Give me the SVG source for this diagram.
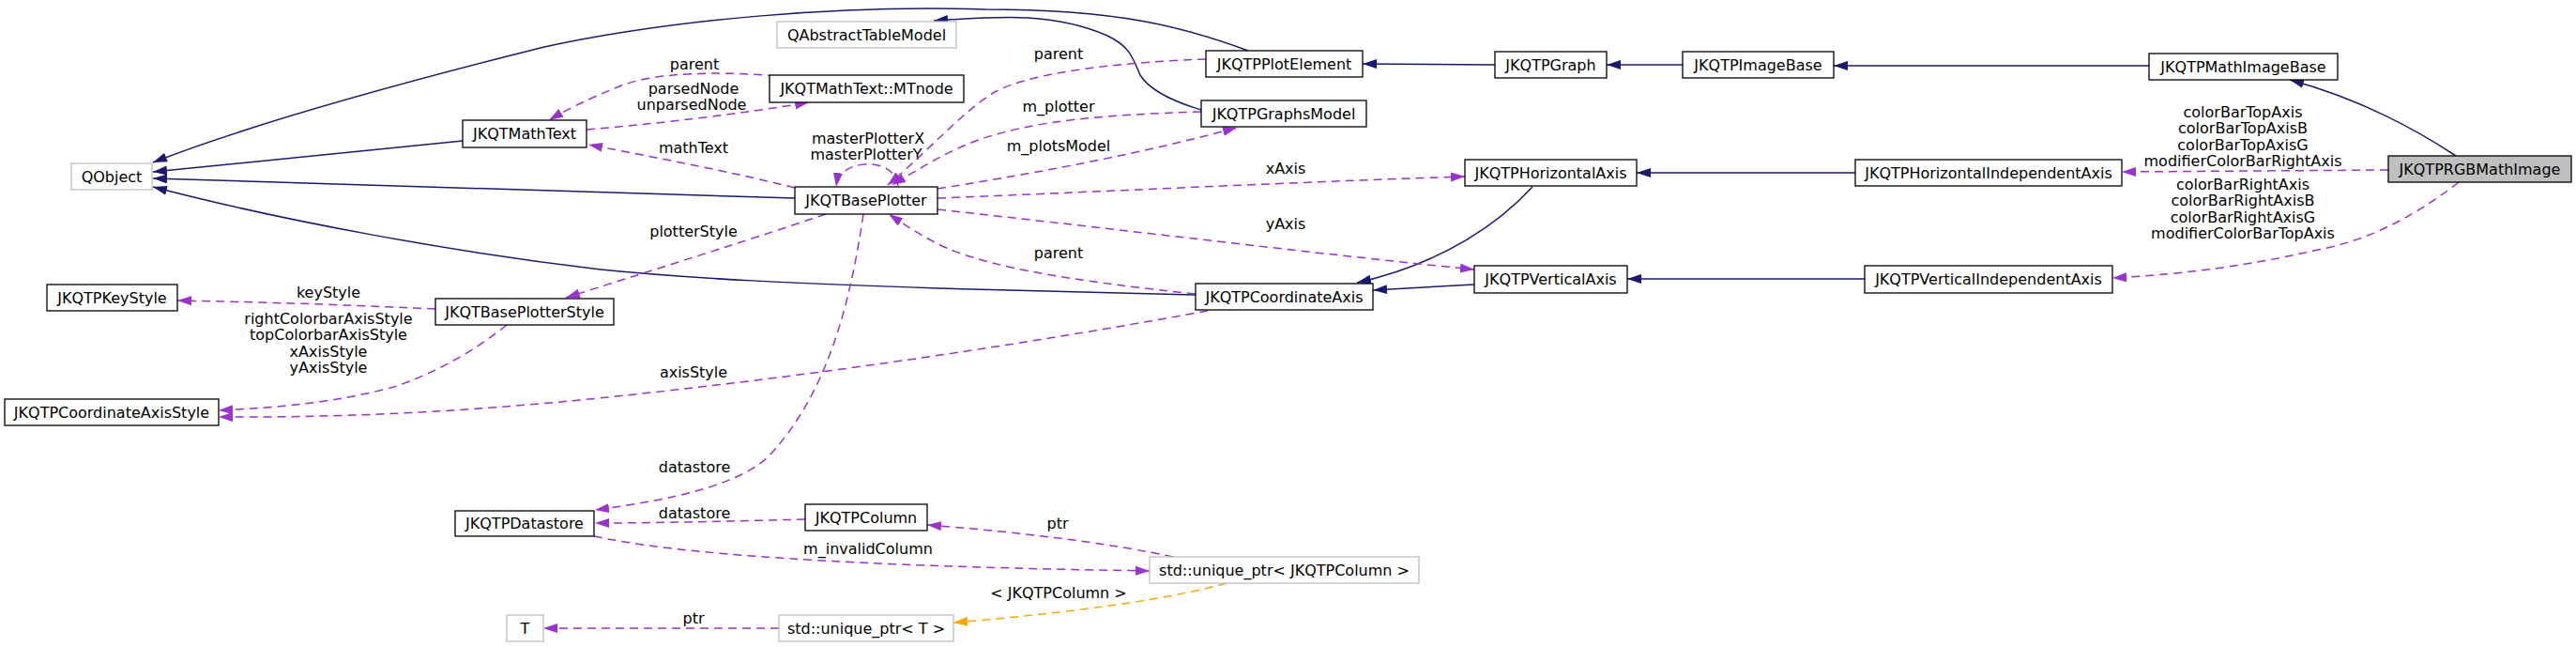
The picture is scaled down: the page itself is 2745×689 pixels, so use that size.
<svg xmlns="http://www.w3.org/2000/svg" width="2745" height="689" viewBox="0 0 2745 689">
<style>
text{font-family:"DejaVu Sans","Liberation Sans",sans-serif;font-size:16px;fill:#000;text-anchor:middle}
.n rect{fill:#fff;stroke:#000;stroke-width:1.3}
.g rect{fill:#fff;stroke:#bfbfbf;stroke-width:1.3}
.sel rect{fill:#bfbfbf;stroke:#000;stroke-width:1.3}
.inh{fill:none;stroke:#191970;stroke-width:1.5;marker-end:url(#an)}
.use{fill:none;stroke:#9a32cd;stroke-width:1.5;stroke-dasharray:9,6;marker-end:url(#ap)}
.tpl{fill:none;stroke:#ffa500;stroke-width:1.5;stroke-dasharray:9,6;marker-end:url(#ao)}
</style>
<defs>
<marker id="an" markerUnits="userSpaceOnUse" markerWidth="16" markerHeight="12" refX="15" refY="5" orient="auto"><path d="M0,0 L15,5 L0,10 z" fill="#191970"/></marker>
<marker id="ap" markerUnits="userSpaceOnUse" markerWidth="16" markerHeight="12" refX="15" refY="5" orient="auto"><path d="M0,0 L15,5 L0,10 z" fill="#9a32cd"/></marker>
<marker id="ao" markerUnits="userSpaceOnUse" markerWidth="16" markerHeight="12" refX="15" refY="5" orient="auto"><path d="M0,0 L15,5 L0,10 z" fill="#ffa500"/></marker>
</defs>
<rect width="2745" height="689" fill="#fff"/>
<g id="edges">
<path class="inh" d="M1330,54 C1260,28 1190,10 1050,10 C900,5 720,20 580,50 C420,90 260,135 163,173"/>
<path class="inh" d="M493,150 L163,183"/>
<path class="inh" d="M847,211 L163,190"/>
<path class="inh" d="M1274,314 L1000,307 C850,302 740,297 640,287 C480,268 300,235 163,199"/>
<path class="inh" d="M1280,117 C1250,108 1225,96 1215,80 C1207,62 1205,50 1180,38 C1120,12 1060,18 995,22"/>
<path class="inh" d="M1593,69 L1452,68"/>
<path class="inh" d="M1793,69 L1712,69"/>
<path class="inh" d="M2290,70 L1954,70"/>
<path class="inh" d="M2617,166 C2570,135 2510,104 2440,85"/>
<path class="inh" d="M1977,184 L1744,184"/>
<path class="inh" d="M1987,297 L1734,297"/>
<path class="inh" d="M1633,199 C1600,235 1540,280 1446,301"/>
<path class="inh" d="M1571,303 L1463,309"/>

<path class="use" d="M827,81 C770,76 700,76 660,92 C630,104 605,116 585,128"/>
<text x="740" y="74">parent</text>
<path class="use" d="M625,138 C700,132 790,121 862,109"/>
<text x="739" y="100">parsedNode</text>
<text x="737" y="117">unparsedNode</text>
<path class="use" d="M847,200 C780,183 700,168 627,154"/>
<text x="739" y="163">mathText</text>
<path class="use" d="M957,198 C955,180 937,174 922,175 C905,176 893,184 891,199"/>
<text x="925" y="153">masterPlotterX</text>
<text x="923" y="170">masterPlotterY</text>
<path class="use" d="M1285,63 C1200,66 1100,76 1060,98 C1030,115 990,160 946,197"/>
<text x="1128" y="63">parent</text>
<path class="use" d="M1280,119 C1180,122 1100,128 1040,150 C1005,163 980,180 950,197"/>
<text x="1128" y="119">m_plotter</text>
<path class="use" d="M999,201 C1080,188 1200,168 1318,136"/>
<text x="1128" y="161">m_plotsModel</text>
<path class="use" d="M999,211 C1200,203 1400,193 1561,188"/>
<text x="1370" y="185">xAxis</text>
<path class="use" d="M999,223 C1200,245 1400,270 1571,287"/>
<text x="1370" y="244">yAxis</text>
<path class="use" d="M1274,313 C1150,300 1050,285 1000,260 C980,250 965,240 947,228"/>
<text x="1128" y="275">parent</text>
<path class="use" d="M880,228 C800,255 720,280 603,317"/>
<text x="739" y="252">plotterStyle</text>
<path class="use" d="M464,329 C400,326 300,322 189,320"/>
<text x="350" y="317">keyStyle</text>
<path class="use" d="M540,346 C510,370 470,395 420,412 C360,428 300,434 233,437"/>
<text x="350" y="345">rightColorbarAxisStyle</text>
<text x="350" y="362">topColorbarAxisStyle</text>
<text x="350" y="380">xAxisStyle</text>
<text x="350" y="397">yAxisStyle</text>
<path class="use" d="M1287,331 C1100,365 900,395 720,415 C550,435 400,445 233,444"/>
<text x="739" y="402">axisStyle</text>
<path class="use" d="M920,228 C905,330 880,420 820,485 C790,515 720,532 634,543"/>
<text x="740" y="503">datastore</text>
<path class="use" d="M858,553 C780,555 700,557 634,557"/>
<text x="740" y="552">datastore</text>
<path class="use" d="M633,571 C720,590 900,603 1225,608"/>
<text x="925" y="590">m_invalidColumn</text>
<path class="use" d="M1250,593 C1180,578 1080,566 988,559"/>
<text x="1127" y="563">ptr</text>
<path class="tpl" d="M1307,621 C1250,637 1150,652 1016,663"/>
<text x="1128" y="637">&lt; JKQTPColumn &gt;</text>
<path class="use" d="M830,669 L579,669"/>
<text x="739" y="664">ptr</text>
<path class="use" d="M2545,181 L2261,183"/>
<text x="2390" y="125">colorBarTopAxis</text>
<text x="2390" y="142">colorBarTopAxisB</text>
<text x="2390" y="160">colorBarTopAxisG</text>
<text x="2390" y="177">modifierColorBarRightAxis</text>
<path class="use" d="M2620,194 C2580,225 2530,255 2470,266 C2400,282 2330,292 2251,296"/>
<text x="2390" y="202">colorBarRightAxis</text>
<text x="2390" y="219">colorBarRightAxisB</text>
<text x="2390" y="237">colorBarRightAxisG</text>
<text x="2390" y="254">modifierColorBarTopAxis</text>
</g>
<g id="JKQTPRGBMathImage" class="sel"><rect x="2545" y="166" width="195" height="28"/><text x="2642.5" y="186">JKQTPRGBMathImage</text></g>
<g id="JKQTPMathImageBase" class="n"><rect x="2290" y="57" width="201" height="28"/><text x="2390.5" y="77">JKQTPMathImageBase</text></g>
<g id="JKQTPImageBase" class="n"><rect x="1793" y="55" width="161" height="28"/><text x="1873.5" y="75">JKQTPImageBase</text></g>
<g id="JKQTPGraph" class="n"><rect x="1593" y="55" width="119" height="28"/><text x="1652.5" y="75">JKQTPGraph</text></g>
<g id="JKQTPPlotElement" class="n"><rect x="1285" y="54" width="167" height="28"/><text x="1368.5" y="74">JKQTPPlotElement</text></g>
<g id="QObject" class="g"><rect x="76" y="174" width="86" height="28"/><text x="119" y="194">QObject</text></g>
<g id="QAbstractTableModel" class="g"><rect x="828" y="23" width="191" height="28"/><text x="923.5" y="43">QAbstractTableModel</text></g>
<g id="JKQTMathText_MTnode" class="n"><rect x="820" y="80" width="207" height="29"/><text x="923.5" y="100">JKQTMathText::MTnode</text></g>
<g id="JKQTMathText" class="n"><rect x="493" y="128" width="132" height="29"/><text x="559" y="148">JKQTMathText</text></g>
<g id="JKQTBasePlotter" class="n"><rect x="847" y="199" width="152" height="29"/><text x="923" y="219">JKQTBasePlotter</text></g>
<g id="JKQTPGraphsModel" class="n"><rect x="1280" y="107" width="176" height="28"/><text x="1368" y="127">JKQTPGraphsModel</text></g>
<g id="JKQTPCoordinateAxis" class="n"><rect x="1274" y="302" width="189" height="28"/><text x="1368.5" y="322">JKQTPCoordinateAxis</text></g>
<g id="JKQTPHorizontalAxis" class="n"><rect x="1561" y="170" width="183" height="28"/><text x="1652.5" y="190">JKQTPHorizontalAxis</text></g>
<g id="JKQTPVerticalAxis" class="n"><rect x="1571" y="283" width="163" height="29"/><text x="1652.5" y="303">JKQTPVerticalAxis</text></g>
<g id="JKQTPHorizontalIndependentAxis" class="n"><rect x="1977" y="170" width="284" height="28"/><text x="2119" y="190">JKQTPHorizontalIndependentAxis</text></g>
<g id="JKQTPVerticalIndependentAxis" class="n"><rect x="1987" y="283" width="264" height="29"/><text x="2119" y="303">JKQTPVerticalIndependentAxis</text></g>
<g id="JKQTPKeyStyle" class="n"><rect x="50" y="303" width="139" height="28"/><text x="119.5" y="323">JKQTPKeyStyle</text></g>
<g id="JKQTBasePlotterStyle" class="n"><rect x="464" y="318" width="190" height="28"/><text x="559" y="338">JKQTBasePlotterStyle</text></g>
<g id="JKQTPCoordinateAxisStyle" class="n"><rect x="5" y="425" width="228" height="28"/><text x="119" y="445">JKQTPCoordinateAxisStyle</text></g>
<g id="JKQTPDatastore" class="n"><rect x="485" y="544" width="148" height="27"/><text x="559" y="563">JKQTPDatastore</text></g>
<g id="JKQTPColumn" class="n"><rect x="858" y="537" width="130" height="28"/><text x="923" y="557">JKQTPColumn</text></g>
<g id="unique_ptr_JKQTPColumn" class="g"><rect x="1225" y="593" width="287" height="28"/><text x="1368.5" y="613">std::unique_ptr&lt; JKQTPColumn &gt;</text></g>
<g id="unique_ptr_T" class="g"><rect x="830" y="655" width="186" height="28"/><text x="923" y="675">std::unique_ptr&lt; T &gt;</text></g>
<g id="T" class="g"><rect x="540" y="655" width="39" height="28"/><text x="559.5" y="675">T</text></g>
</svg>
